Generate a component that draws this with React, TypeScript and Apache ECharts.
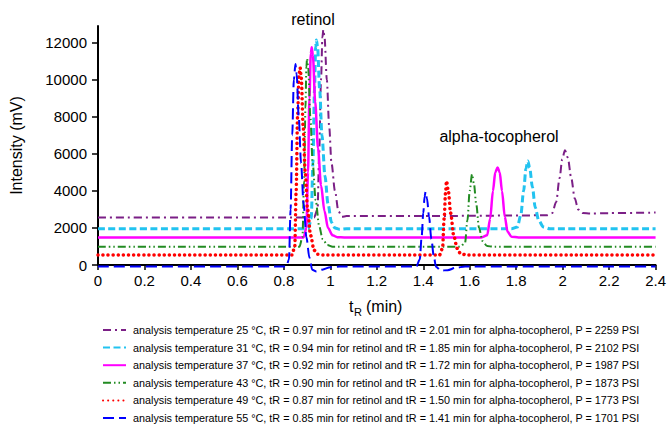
import React, { useEffect, useRef } from "react";
import * as echarts from "echarts";

// Column temperatures, retention times and back-pressures for each run
const temps = [25, 31, 37, 43, 49, 55];
const retinolTR = ["0.97", "0.94", "0.92", "0.90", "0.87", "0.85"];
const tocoTR = ["2.01", "1.85", "1.72", "1.61", "1.50", "1.41"];
const pressures = [2259, 2102, 1987, 1873, 1773, 1701];

// Chromatogram traces: [retention time (min), intensity (mV)]
const trace25: [number, number][] = [
  [0, 2560], [0.5, 2560], [0.93, 2570], [0.945, 3000], [0.952, 6000], [0.96, 10000],
  [0.966, 12300], [0.97, 12700], [0.975, 12300], [0.985, 10000], [0.995, 7500],
  [1.005, 5500], [1.02, 4000], [1.035, 2900], [1.05, 2600], [1.07, 2640], [1.5, 2650],
  [1.93, 2680], [1.955, 2800], [1.972, 3400], [1.987, 4700], [1.998, 5700], [2.01, 6200],
  [2.022, 5800], [2.037, 4700], [2.052, 3600], [2.067, 3000], [2.087, 2800], [2.12, 2780],
  [2.2, 2800], [2.4, 2830],
];
const trace31: [number, number][] = [
  [0, 1960], [0.905, 1960], [0.918, 2500], [0.925, 5500], [0.932, 9500], [0.937, 11800],
  [0.94, 12150], [0.945, 11800], [0.954, 9500], [0.964, 7000], [0.977, 4800], [0.99, 3300],
  [1.005, 2300], [1.02, 2000], [1.04, 1930], [1.07, 1960], [1.78, 1960], [1.805, 2050],
  [1.82, 2700], [1.832, 4000], [1.842, 5200], [1.85, 5620], [1.858, 5250], [1.87, 4200],
  [1.882, 3100], [1.897, 2400], [1.917, 2050], [1.945, 1960], [2.4, 1960],
];
const trace37: [number, number][] = [
  [0, 1490], [0.885, 1490], [0.897, 2000], [0.904, 5000], [0.91, 9000], [0.916, 11400],
  [0.92, 11750], [0.925, 11300], [0.935, 8800], [0.947, 6300], [0.96, 4300], [0.975, 2900],
  [0.99, 2000], [1.01, 1600], [1.03, 1500], [1.06, 1490], [1.65, 1490], [1.675, 1600],
  [1.688, 2500], [1.7, 4000], [1.71, 5000], [1.72, 5260], [1.729, 5000], [1.739, 4000],
  [1.751, 2600], [1.763, 1800], [1.78, 1520], [1.81, 1490], [2.4, 1490],
];
const trace43: [number, number][] = [
  [0, 990], [0.867, 990], [0.88, 1500], [0.887, 4500], [0.893, 8500], [0.897, 10700],
  [0.9, 11150], [0.905, 10600], [0.914, 8000], [0.924, 5500], [0.937, 3500], [0.952, 2100],
  [0.967, 1400], [0.987, 1080], [1.01, 990], [1.56, 990], [1.58, 1200], [1.59, 2400],
  [1.6, 4000], [1.61, 4900], [1.618, 4400], [1.628, 3300], [1.64, 2000], [1.655, 1300],
  [1.675, 1020], [1.7, 990], [2.4, 990],
];
const trace49: [number, number][] = [
  [0, 540], [0.835, 540], [0.847, 1000], [0.853, 4000], [0.859, 8000], [0.865, 10200],
  [0.87, 10650], [0.875, 10100], [0.883, 7500], [0.892, 5000], [0.902, 3000], [0.915, 1600],
  [0.93, 800], [0.945, 580], [0.97, 540], [1.47, 540], [1.483, 900], [1.49, 2500],
  [1.496, 3900], [1.5, 4540], [1.508, 4000], [1.518, 2800], [1.531, 1600], [1.546, 900],
  [1.561, 600], [1.59, 540], [2.4, 540],
];
const trace55: [number, number][] = [
  [0, -80], [0.81, -80], [0.822, 300], [0.829, 3000], [0.836, 7000], [0.843, 10000],
  [0.85, 10850], [0.855, 10300], [0.864, 8000], [0.874, 5500], [0.885, 3300], [0.897, 1500],
  [0.91, 400], [0.922, -250], [0.94, -350], [0.965, -250], [1.0, -120], [1.04, -80],
  [1.37, -80], [1.385, 300], [1.393, 1500], [1.4, 2800], [1.406, 3700], [1.41, 3950],
  [1.416, 3600], [1.425, 2600], [1.435, 1400], [1.445, 500], [1.455, -100], [1.475, -300],
  [1.505, -280], [1.54, -150], [1.58, -80], [2.4, -80],
];

const traces = [trace25, trace31, trace37, trace43, trace49, trace55];

const xTicks = [0, 0.2, 0.4, 0.6, 0.8, 1, 1.2, 1.4, 1.6, 1.8, 2, 2.2, 2.4];
const yTicks = [0, 2000, 4000, 6000, 8000, 10000, 12000];

const colors = ["#7b1f86", "#22c3f0", "#ff00ff", "#228b22", "#ff0000", "#0000ff"];
const lineTypes: any[] = [
  [8, 4, 2, 4],
  [7, 3.5],
  "solid",
  [8, 3, 1.5, 3, 1.5, 3],
  [0.1, 5],
  [11, 5],
];
const lineWidths = [2, 3, 2.5, 2, 3.5, 2];

const FONT = "'Liberation Sans', Arial, sans-serif";

export default function App() {
  const ref = useRef<HTMLDivElement>(null);

  useEffect(() => {
    if (!ref.current) return;
    const chart = echarts.init(ref.current, undefined, { renderer: "svg" });

    const names = temps.map(
      (t, i) =>
        `analysis temperature ${t} °C, tR = ${retinolTR[i]} min for retinol and tR = ${tocoTR[i]} min for alpha-tocopherol, P = ${pressures[i]} PSI`
    );

    const label = (text: string, x: number, y: number, size: number, align = "center") => ({
      type: "text",
      x,
      y,
      style: { text, fill: "#000", font: `${size}px ${FONT}`, align, verticalAlign: "middle" },
    });

    chart.setOption({
      animation: false,
      backgroundColor: "#ffffff",
      textStyle: { fontFamily: FONT },
      grid: { left: 95, right: 13, top: 26, bottom: 159, containLabel: false },
      legend: {
        orient: "vertical",
        left: 102,
        top: 324,
        padding: 0,
        itemWidth: 23,
        itemHeight: 12,
        itemGap: 5.6,
        data: names,
        itemStyle: { opacity: 0 },
        textStyle: { fontSize: 10.8, color: "#000", fontFamily: FONT, lineHeight: 12, padding: [0, 0, 0, 2] },
      },
      xAxis: {
        type: "value",
        min: 0,
        max: 2.4,
        interval: 0.2,
        axisLine: { show: true, onZero: false, lineStyle: { color: "#000", width: 2 } },
        axisTick: { show: true, inside: false, length: 5, customValues: xTicks, lineStyle: { color: "#000", width: 1.5 } },
        axisLabel: {
          customValues: xTicks,
          fontSize: 15,
          color: "#000",
          margin: 8,
          formatter: (v: number) => String(+v.toFixed(1)),
        },
        splitLine: { show: false },
      },
      yAxis: {
        type: "value",
        min: 0,
        max: 12900,
        name: "Intensity (mV)",
        nameLocation: "middle",
        nameGap: 74,
        nameTextStyle: { fontSize: 16, color: "#000", fontFamily: FONT },
        axisLine: { show: true, lineStyle: { color: "#000", width: 2 } },
        axisTick: { show: true, inside: false, length: 6, customValues: yTicks, lineStyle: { color: "#000", width: 1.5 } },
        axisLabel: {
          customValues: yTicks,
          fontSize: 15,
          color: "#000",
          margin: 11,
          formatter: (v: number) => String(v),
        },
        splitLine: { show: false },
      },
      graphic: [
        label("retinol", 313, 19, 16),
        label("alpha-tocopherol", 499, 136, 16),
        // x-axis title: t with subscript R, then (min)
        label("t", 349, 306, 16, "left"),
        label("R", 354, 312, 11, "left"),
        label("(min)", 366, 306, 16, "left"),
      ],
      series: traces.map((d, i) => ({
        name: names[i],
        type: "line",
        data: d,
        showSymbol: false,
        symbol: "none",
        smooth: 0.3,
        smoothMonotone: "x",
        clip: false,
        color: colors[i],
        lineStyle: { color: colors[i], width: lineWidths[i], type: lineTypes[i], cap: i === 4 ? "round" : "butt" },
      })),
    });

    return () => chart.dispose();
  }, []);

  return <div ref={ref} style={{ width: 669, height: 424, position: "absolute", left: 0, top: 0 }} />;
}
